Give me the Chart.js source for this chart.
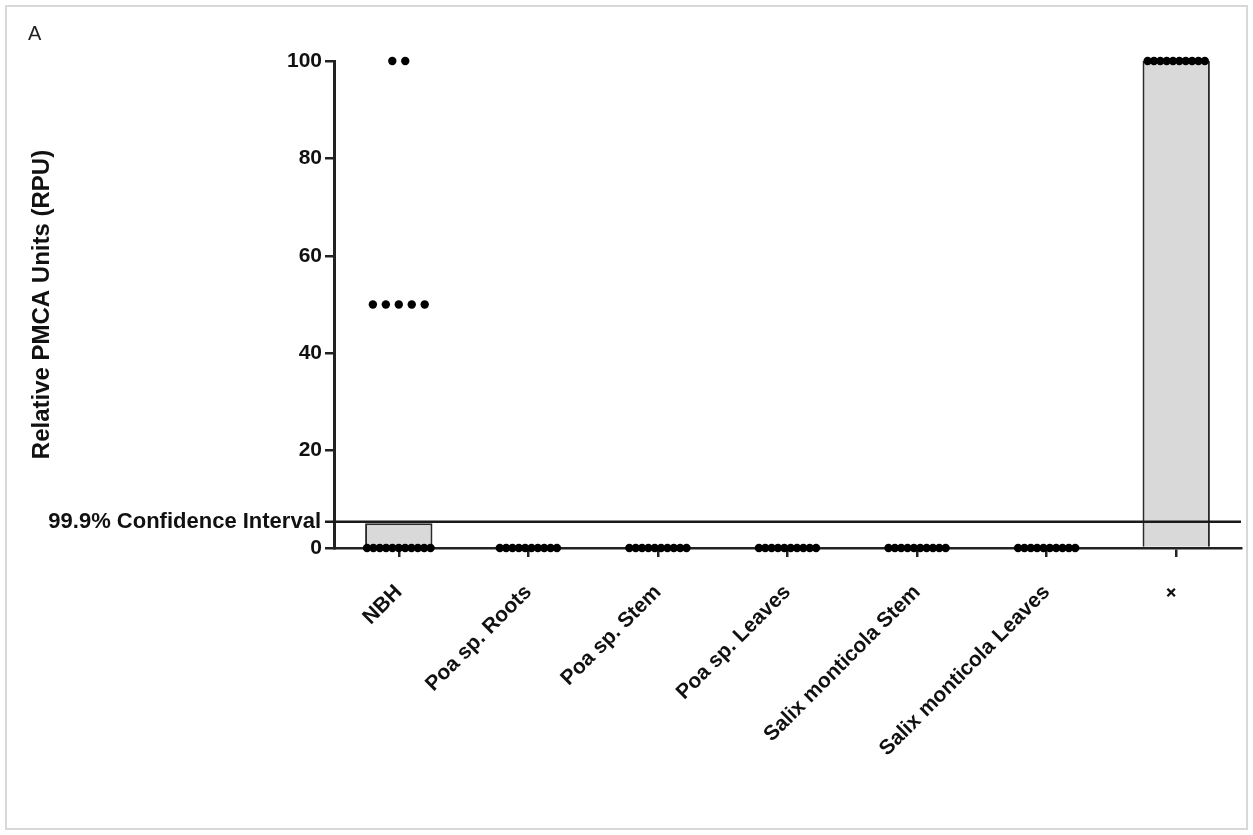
<!DOCTYPE html>
<html>
<head>
<meta charset="utf-8">
<script src="https://cdn.jsdelivr.net/npm/chart.js@4.4.1/dist/chart.umd.min.js"></script>
<style>
  html, body { margin: 0; padding: 0; background: #fff; }
  canvas { display: block; }
</style>
</head>
<body>
<canvas id="pmcaChart" width="1253" height="835"></canvas>
<script>
// Categories along the x axis
const categories = ['NBH', 'Poa sp. Roots', 'Poa sp. Stem', 'Poa sp. Leaves',
                    'Salix monticola Stem', 'Salix monticola Leaves', '+'];

// Bar heights (group summary)
const barValues = [5.1, 0, 0, 0, 0, 0, 100];

// Individual replicate values, one list per category
const nbhPoints = [100, 100, 50, 50, 50, 50, 50, 0, 0, 0, 0, 0, 0, 0, 0, 0, 0, 0];
const poaRootsPoints = [0, 0, 0, 0, 0, 0, 0, 0, 0, 0];
const poaStemPoints = [0, 0, 0, 0, 0, 0, 0, 0, 0, 0];
const poaLeavesPoints = [0, 0, 0, 0, 0, 0, 0, 0, 0, 0];
const salixStemPoints = [0, 0, 0, 0, 0, 0, 0, 0, 0, 0];
const salixLeavesPoints = [0, 0, 0, 0, 0, 0, 0, 0, 0, 0];
const positivePoints = [100, 100, 100, 100, 100, 100, 100, 100, 100, 100];
const replicates = [nbhPoints, poaRootsPoints, poaStemPoints, poaLeavesPoints,
                    salixStemPoints, salixLeavesPoints, positivePoints];

// Threshold line and y ticks
const ciValue = 5.4;
const yTickValues = [0, 20, 40, 60, 80, 100];

const FONT = '"Liberation Sans", Arial, sans-serif';

// spread equal values side by side (dot plot layout)
const scatterPoints = [];
replicates.forEach((vals, i) => {
    const groups = {};
    vals.forEach(v => { (groups[v] = groups[v] || []).push(v); });
    Object.keys(groups).forEach(key => {
        const n = groups[key].length;
        const gap = n > 5 ? 0.049 : 0.1;
        groups[key].forEach((v, k) => {
            scatterPoints.push({ x: i + (k - (n - 1) / 2) * gap, y: v });
        });
    });
});

// frame, panel letter and the confidence interval line
const decorations = {
    id: 'decorations',
    beforeDraw(chart) {
        const c = chart.ctx;
        c.save();
        c.fillStyle = '#fff';
        c.fillRect(0, 0, chart.width, chart.height);
        c.strokeStyle = '#d8d8d8';
        c.lineWidth = 2;
        c.strokeRect(6, 6, 1241, 823);
        c.fillStyle = '#222';
        c.font = '20px ' + FONT;
        c.textBaseline = 'alphabetic';
        c.fillText('A', 28, 40);
        c.restore();
    },
    afterDraw(chart) {
        const c = chart.ctx;
        const area = chart.chartArea;
        const y = chart.scales.y.getPixelForValue(ciValue);
        c.save();
        c.strokeStyle = '#1a1a1a';
        c.lineWidth = 2.5;
        c.beginPath();
        c.moveTo(area.left - 9, y);
        c.lineTo(area.right, y);
        c.stroke();
        c.fillStyle = '#111';
        c.font = 'bold 22px ' + FONT;
        c.textAlign = 'right';
        c.textBaseline = 'middle';
        c.fillText('99.9% Confidence Interval', area.left - 13, y);
        c.restore();
    }
};

const ctx = document.getElementById('pmcaChart').getContext('2d');

new Chart(ctx, {
    type: 'bar',
    data: {
        labels: categories,
        datasets: [
            {
                type: 'scatter',
                xAxisID: 'xs',
                yAxisID: 'y',
                data: scatterPoints,
                pointRadius: 4.2,
                pointBackgroundColor: '#000',
                pointBorderWidth: 0,
                clip: false,
                order: 1
            },
            {
                type: 'bar',
                data: barValues,
                backgroundColor: '#d9d9d9',
                borderColor: '#2a2a2a',
                borderWidth: 2,
                grouped: false,
                categoryPercentage: 1,
                barPercentage: 0.52,
                clip: false,
                order: 2
            }
        ]
    },
    options: {
        responsive: false,
        animation: false,
        events: [],
        layout: { padding: { left: 0, right: 12, top: 61, bottom: 0 } },
        plugins: {
            legend: { display: false },
            tooltip: { enabled: false }
        },
        scales: {
            x: {
                type: 'category',
                offset: true,
                grid: {
                    offset: false,
                    drawOnChartArea: false,
                    tickLength: 9,
                    color: '#222',
                    lineWidth: 2.5
                },
                border: { color: '#222', width: 2.5 },
                ticks: {
                    minRotation: 45,
                    maxRotation: 45,
                    padding: 23,
                    color: '#111',
                    font: { family: FONT, size: 21, weight: 'bold' }
                },
                afterFit(scale) { scale.height = 287; }
            },
            xs: {
                type: 'linear',
                display: false,
                offset: false,
                bounds: 'ticks',
                min: -0.5,
                max: 6.5
            },
            y: {
                min: 0,
                max: 100,
                afterBuildTicks(scale) {
                    scale.ticks = yTickValues.map(v => ({ value: v }));
                },
                grid: {
                    drawOnChartArea: false,
                    tickLength: 9,
                    color: '#222',
                    lineWidth: 2.5
                },
                border: { color: '#222', width: 3 },
                ticks: {
                    padding: 3,
                    color: '#111',
                    font: { family: FONT, size: 21, weight: 'bold' }
                },
                title: {
                    display: true,
                    text: 'Relative PMCA Units (RPU)',
                    color: '#111',
                    font: { family: FONT, size: 24, weight: 'bold' },
                    padding: { top: 28, bottom: 0 }
                },
                afterFit(scale) { scale.width = 334; }
            }
        }
    },
    plugins: [decorations]
});
</script>
</body>
</html>
